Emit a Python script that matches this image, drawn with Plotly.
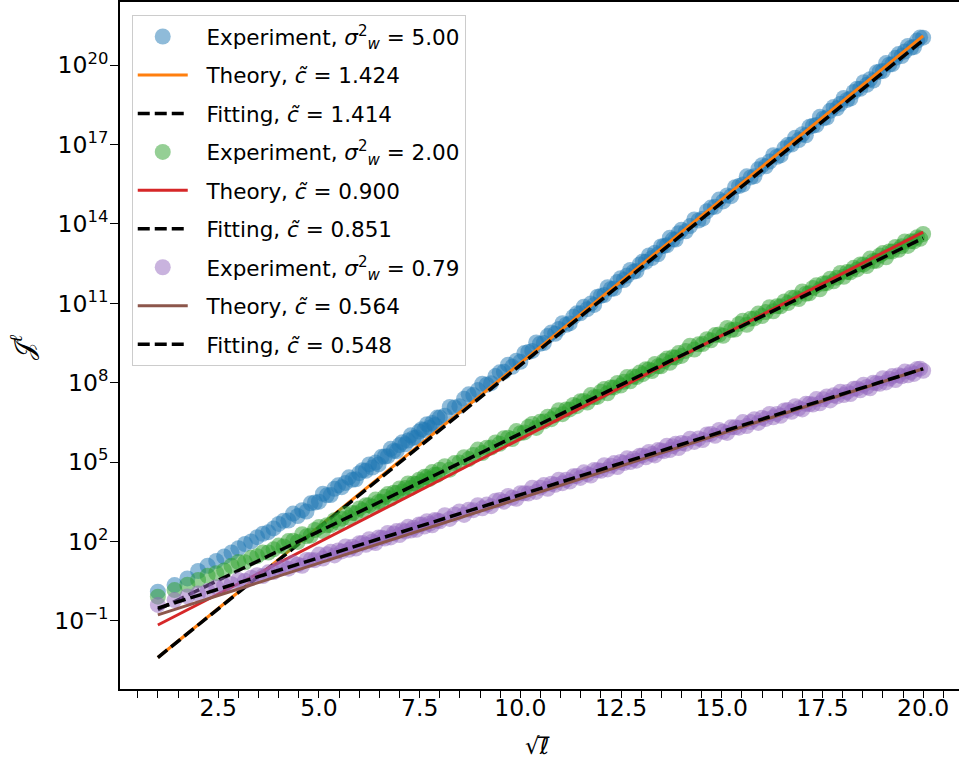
import math
import plotly.graph_objects as go

# sequence lengths l (x axis shows sqrt(l)); sampled every 1, 2, 3 steps
ell = list(range(1, 65)) + list(range(66, 197, 2)) + list(range(199, 401, 3))

# log10 of J^l
exp_500_log = [
    0.10, 0.35, 0.60, 0.88, 1.08, 1.26, 1.43, 1.58, 1.74, 1.90, 2.00, 2.16, 2.29, 2.35, 2.49, 2.66,
    2.78, 2.79, 3.05, 2.96, 3.18, 3.13, 3.44, 3.47, 3.50, 3.80, 3.74, 3.75, 3.99, 4.12, 4.05, 4.21,
    4.42, 4.33, 4.35, 4.58, 4.69, 4.67, 4.91, 4.79, 4.98, 4.91, 5.20, 5.21, 5.22, 5.50, 5.42, 5.41,
    5.64, 5.75, 5.67, 5.81, 6.01, 5.91, 5.93, 6.15, 6.24, 6.21, 6.43, 6.30, 6.48, 6.40, 6.68, 6.68,
    6.75, 7.08, 7.06, 7.11, 7.39, 7.56, 7.53, 7.72, 7.96, 7.92,
    7.98, 8.25, 8.39, 8.41, 8.68, 8.60, 8.83, 8.79, 9.12, 9.16,
    9.20, 9.52, 9.47, 9.50, 9.76, 9.90, 9.85, 10.03, 10.25, 10.19,
    10.24, 10.49, 10.62, 10.62, 10.87, 10.78, 10.99, 10.94, 11.25, 11.28,
    11.31, 11.61, 11.54, 11.56, 11.81, 11.95, 11.88, 12.05, 12.26, 12.19,
    12.22, 12.47, 12.58, 12.57, 12.81, 12.71, 12.91, 12.85, 13.15, 13.17,
    13.19, 13.48, 13.41, 13.41, 13.65, 13.78,
    13.72, 13.92, 14.17, 14.13, 14.20, 14.48, 14.62, 14.65, 14.92, 14.85,
    15.08, 15.05, 15.39, 15.43, 15.49, 15.80, 15.76, 15.80, 16.07, 16.22,
    16.18, 16.36, 16.60, 16.54, 16.59, 16.86, 16.99, 17.00, 17.26, 17.17,
    17.39, 17.35, 17.67, 17.71, 17.74, 18.05, 17.99, 18.02, 18.28, 18.42,
    18.37, 18.54, 18.76, 18.69, 18.74, 18.99, 19.11, 19.11, 19.36, 19.26,
    19.47, 19.42, 19.73, 19.76, 19.78, 20.08, 20.02, 20.04, 20.28, 20.42,
    20.35, 20.52, 20.73, 20.66, 20.69, 20.93, 21.05, 21.04]

exp_200_log = [
    -0.09, 0.16, 0.36, 0.54, 0.70, 0.80, 0.90, 1.08, 1.22, 1.21, 1.38, 1.44, 1.58, 1.58, 1.70, 1.84,
    1.81, 2.01, 2.02, 1.98, 2.27, 2.19, 2.22, 2.43, 2.54, 2.39, 2.61, 2.62, 2.80, 2.71, 2.86, 3.04,
    2.89, 3.07, 3.06, 3.24, 3.18, 3.37, 3.37, 3.31, 3.58, 3.49, 3.50, 3.69, 3.79, 3.62, 3.84, 3.83,
    4.00, 3.89, 4.02, 4.19, 4.02, 4.19, 4.17, 4.33, 4.26, 4.44, 4.43, 4.36, 4.62, 4.52, 4.52, 4.71,
    4.84, 4.71, 4.96, 4.98, 5.18, 5.11, 5.27, 5.47, 5.34, 5.54,
    5.55, 5.74, 5.69, 5.90, 5.92, 5.87, 6.17, 6.09, 6.12, 6.33,
    6.44, 6.29, 6.52, 6.53, 6.71, 6.62, 6.77, 6.96, 6.81, 6.99,
    6.99, 7.16, 7.11, 7.30, 7.31, 7.25, 7.53, 7.45, 7.46, 7.66,
    7.76, 7.60, 7.82, 7.82, 7.99, 7.89, 8.03, 8.21, 8.05, 8.23,
    8.21, 8.38, 8.32, 8.51, 8.50, 8.44, 8.71, 8.62, 8.62, 8.82,
    8.91, 8.75, 8.96, 8.95, 9.12, 9.01,
    9.20, 9.40, 9.25, 9.45, 9.46, 9.64, 9.60, 9.80, 9.82, 9.77,
    10.07, 9.99, 10.01, 10.22, 10.34, 10.19, 10.42, 10.43, 10.61, 10.52,
    10.67, 10.85, 10.70, 10.89, 10.89, 11.07, 11.01, 11.21, 11.22, 11.16,
    11.45, 11.36, 11.38, 11.58, 11.68, 11.53, 11.75, 11.76, 11.93, 11.83,
    11.97, 12.15, 12.00, 12.18, 12.17, 12.34, 12.28, 12.47, 12.47, 12.41,
    12.69, 12.60, 12.61, 12.81, 12.90, 12.74, 12.96, 12.96, 13.13, 13.02,
    13.16, 13.34, 13.17, 13.35, 13.34, 13.50, 13.44, 13.62]

exp_079_log = [
    -0.40, -0.22, -0.08, 0.03, 0.12, 0.27, 0.33, 0.38, 0.54, 0.51, 0.63, 0.72, 0.69, 0.83, 0.84, 0.96,
    1.03, 0.97, 1.19, 1.12, 1.08, 1.30, 1.30, 1.29, 1.50, 1.35, 1.51, 1.61, 1.47, 1.66, 1.62, 1.81,
    1.68, 1.80, 1.73, 1.93, 1.94, 1.87, 2.08, 1.99, 1.94, 2.15, 2.14, 2.11, 2.32, 2.15, 2.30, 2.39,
    2.24, 2.42, 2.37, 2.55, 2.41, 2.52, 2.44, 2.64, 2.64, 2.56, 2.76, 2.67, 2.61, 2.81, 2.79, 2.76,
    2.99, 2.85, 3.02, 3.13, 3.00, 3.20, 3.18, 3.37, 3.25, 3.39,
    3.33, 3.54, 3.56, 3.50, 3.72, 3.65, 3.61, 3.82, 3.82, 3.81,
    4.03, 3.87, 4.03, 4.13, 3.99, 4.18, 4.14, 4.33, 4.20, 4.33,
    4.26, 4.46, 4.47, 4.40, 4.61, 4.54, 4.49, 4.70, 4.69, 4.67,
    4.88, 4.72, 4.86, 4.96, 4.81, 5.00, 4.96, 5.14, 5.00, 5.12,
    5.05, 5.24, 5.25, 5.18, 5.38, 5.30, 5.25, 5.45, 5.44, 5.41,
    5.62, 5.45, 5.60, 5.69, 5.53, 5.72,
    5.69, 5.88, 5.76, 5.89, 5.83, 6.04, 6.06, 5.99, 6.21, 6.14,
    6.10, 6.31, 6.31, 6.30, 6.51, 6.36, 6.51, 6.62, 6.48, 6.67,
    6.63, 6.82, 6.69, 6.82, 6.75, 6.95, 6.97, 6.90, 7.11, 7.03,
    6.99, 7.20, 7.19, 7.17, 7.38, 7.22, 7.37, 7.48, 7.33, 7.52,
    7.48, 7.66, 7.53, 7.65, 7.57, 7.77, 7.78, 7.71, 7.92, 7.84,
    7.79, 8.00, 7.98, 7.96, 8.17, 8.01, 8.15, 8.25, 8.10, 8.28,
    8.24, 8.42, 8.28, 8.40, 8.33, 8.52, 8.53, 8.45]

sigma_labels = ["5.00", "2.00", "0.79"]
theory_c = [1.424, 0.900, 0.564]
theory_log_at_1 = [-2.39, -1.16, -0.78]
fit_c = [1.414, 0.851, 0.548]
fit_log_at_1 = [-2.39, -0.58, -0.52]

exp_colors = ["#1f77b4", "#2ca02c", "#9467bd"]
theory_colors = ["#ff7f0e", "#d62728", "#8c564b"]

xs = [math.sqrt(v) for v in ell]
exp_logs = [exp_500_log, exp_200_log, exp_079_log]
for s in exp_logs:
    assert len(s) == len(xs), (len(s), len(xs))


def line_vals(c, b0):
    # J = A * exp(2 c sqrt(l))  ->  straight line in log10
    return [10.0 ** (b0 + 2 * c * (x - 1) / math.log(10)) for x in xs]


FONT = "DejaVu Sans"
PAD = "\u00a0\u00a0"
fig = go.Figure()
g = 0
for i in range(3):
    fig.add_trace(go.Scatter(
        x=xs, y=[10.0 ** v for v in exp_logs[i]], mode="markers",
        marker=dict(size=16, color=exp_colors[i], opacity=0.5, line=dict(width=0)),
        name=f"{PAD}Experiment, <i>σ</i><sup>2</sup><sub><i>w</i></sub> = {sigma_labels[i]}",
        legendgroup=f"g{g}"))
    g += 1
    fig.add_trace(go.Scatter(
        x=xs, y=line_vals(theory_c[i], theory_log_at_1[i]), mode="lines",
        line=dict(color=theory_colors[i], width=3),
        name=f"{PAD}Theory, <i>c\u0303</i> = {theory_c[i]:.3f}", legendgroup=f"g{g}"))
    g += 1
    fig.add_trace(go.Scatter(
        x=xs, y=line_vals(fit_c[i], fit_log_at_1[i]), mode="lines",
        line=dict(color="black", width=3.5, dash="12px,5px"),
        name=f"{PAD}Fitting, <i>c\u0303</i> = {fit_c[i]:.3f}", legendgroup=f"g{g}"))
    g += 1

ytick_exps = [-1, 2, 5, 8, 11, 14, 17, 20]
ytick_text = [f"10<sup>{e if e >= 0 else '−' + str(-e)}</sup>" for e in ytick_exps]

fig.update_layout(
    width=959, height=761,
    margin=dict(l=120, r=0, t=2, b=72),
    paper_bgcolor="white", plot_bgcolor="white",
    font=dict(family=FONT, color="black"),
    showlegend=True,
    legend=dict(x=0.014, y=0.981, xanchor="left", yanchor="top",
                bgcolor="rgba(255,255,255,0.8)", bordercolor="#cccccc", borderwidth=1,
                font=dict(family=FONT, size=21.5, color="black"),
                itemwidth=50, tracegroupgap=7.5, traceorder="grouped"),
    xaxis=dict(range=[0.06, 20.89], showgrid=False, zeroline=False,
               showline=True, linecolor="black", linewidth=1.8, mirror=True,
               ticks="outside", ticklen=7, tickwidth=1.4, tickcolor="black",
               tickvals=[2.5, 5, 7.5, 10, 12.5, 15, 17.5, 20],
               ticktext=["2.5", "5.0", "7.5", "10.0", "12.5", "15.0", "17.5", "20.0"],
               tickfont=dict(family=FONT, size=23.5), ticklabelstandoff=-10,
               minor=dict(dtick=0.5, tick0=0, ticks="outside", ticklen=7, tickwidth=1.4,
                          tickcolor="black", showgrid=False)),
    yaxis=dict(type="log", range=[-3.58, 22.39], showgrid=False, zeroline=False,
               showline=True, linecolor="black", linewidth=1.8, mirror=False,
               ticks="outside", ticklen=8, tickwidth=1.4, tickcolor="black",
               tickvals=[10.0 ** e for e in ytick_exps], ticktext=ytick_text,
               tickfont=dict(family=FONT, size=23.5), ticklabelstandoff=-3),
    annotations=[
        dict(text="√<i>ℓ\u0305</i>", xref="paper", yref="paper",
             x=0.498, y=-0.083, xanchor="center", yanchor="middle", showarrow=False,
             font=dict(family=FONT, size=23)),
        dict(text="𝒥<sup><i>ℓ</i></sup>", xref="paper", yref="paper",
             x=-0.117, y=0.497, xanchor="center", yanchor="middle", showarrow=False,
             textangle=-90, font=dict(family="DejaVu Serif", size=26)),
    ],
)

fig.write_html("out.html")
